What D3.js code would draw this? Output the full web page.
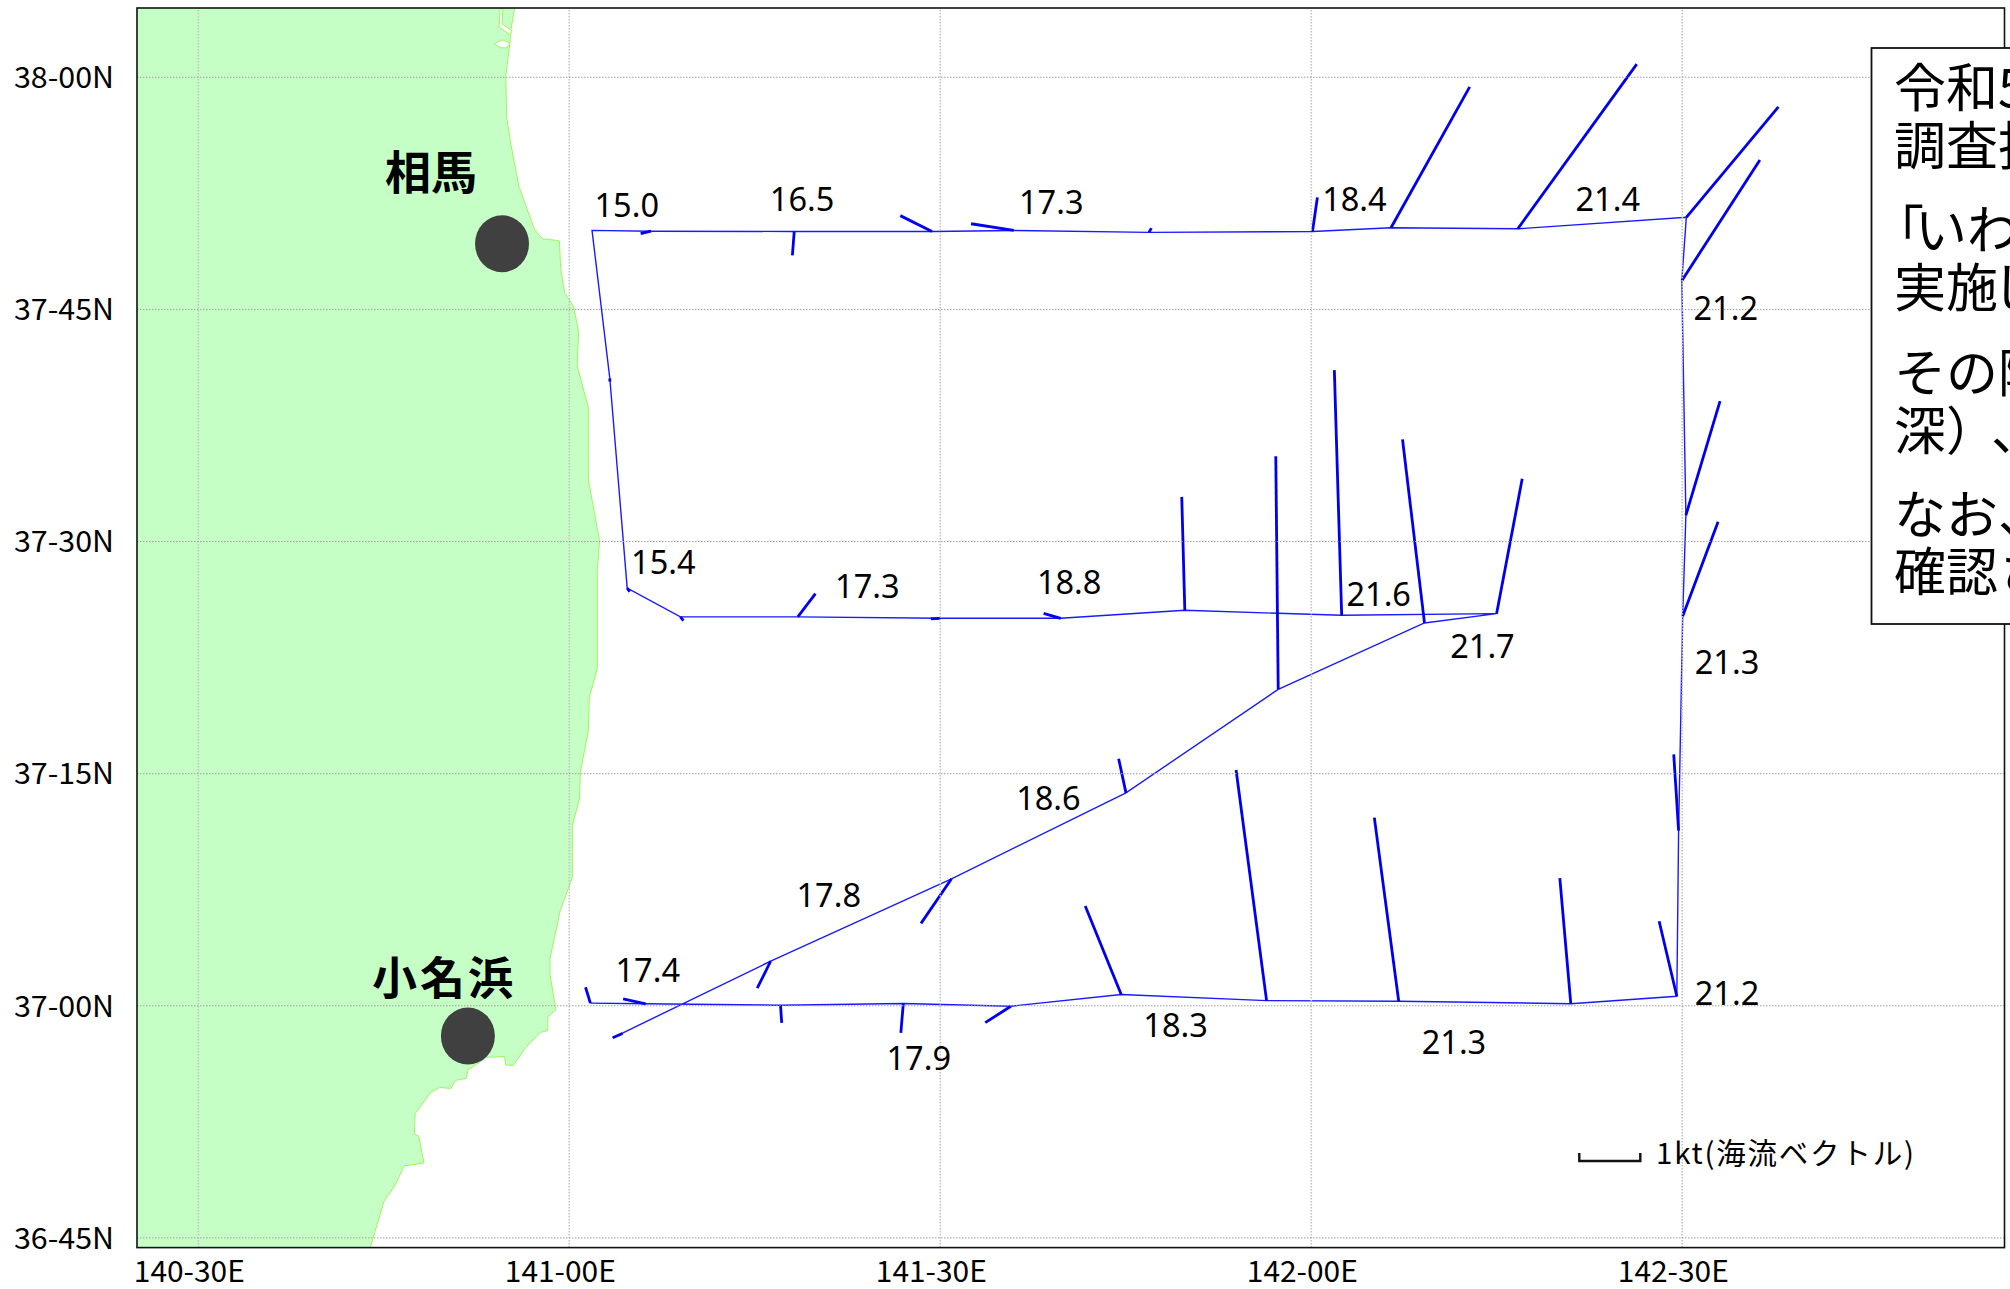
<!DOCTYPE html>
<html>
<head>
<meta charset="utf-8">
<title>海流ベクトル</title>
<script src="https://cdn.jsdelivr.net/npm/d3@7"></script>
<style>
body { margin: 0; background: #fff; overflow: hidden; }
svg { display: block; }
text { text-spacing-trim: space-all; }
</style>
</head>
<body>
<svg id="chart" width="2010" height="1289"></svg>
<script>
// ticks
var lonTicks = [140.5, 141, 141.5, 142, 142.5];
var lonTickLabels = ["140-30E", "141-00E", "141-30E", "142-00E", "142-30E"];
var latTicks = [38, 37.75, 37.5, 37.25, 37, 36.75];
var latTickLabels = ["38-00N", "37-45N", "37-30N", "37-15N", "37-00N", "36-45N"];

// survey track in sailing order, current at each station in knots
var trackLon = [141.0592, 141.2721, 141.5158, 141.7509, 141.9561, 142.1532, 142.2504, 142.0416, 141.8302, 141.6629, 141.5005, 141.3086, 141.1504, 141.0787, 141.0553, 141.0313, 141.1108, 141.3038, 141.4895, 141.5997, 141.7819, 142.0023, 142.1081, 142.2790, 142.5061, 142.5000, 142.5055, 142.5012, 142.4957, 142.4933, 142.3504, 142.1185, 141.9404, 141.7445, 141.5958, 141.4508, 141.2853, 141.1036, 141.0291];
var trackLat = [36.9650, 37.0475, 37.1362, 37.2288, 37.3403, 37.4118, 37.4218, 37.4200, 37.4254, 37.4168, 37.4168, 37.4183, 37.4183, 37.4494, 37.6751, 37.8346, 37.8337, 37.8334, 37.8334, 37.8345, 37.8324, 37.8334, 37.8374, 37.8363, 37.8486, 37.7804, 37.5278, 37.4190, 37.1882, 37.0097, 37.0017, 37.0043, 37.0050, 37.0116, 36.9990, 37.0019, 37.0001, 37.0016, 37.0023];
var currentU = [0.16, -0.22, -0.50, -0.12, -0.04, -0.36, 0.42, -0.12, -0.05, -0.28, -0.15, 0.29, 0.05, 0.04, 0, 0, -0.17, -0.03, -0.52, -0.70, 0.04, 0.08, 1.29, 1.95, 1.51, 1.28, 0.56, 0.58, -0.08, -0.29, -0.18, -0.40, -0.50, -0.59, -0.42, -0.04, 0.02, -0.37, -0.08];
var currentV = [0.07, -0.44, -0.73, 0.56, 3.82, 3.01, 2.21, 4.02, 1.86, 0.08, -0.01, 0.38, -0.06, -0.06, -0.05, 0, -0.04, -0.39, 0.26, 0.11, 0.07, 0.56, 2.31, 2.70, 1.81, 1.98, 1.87, 1.55, 1.25, 1.23, 2.06, 3.01, 3.78, 1.45, -0.27, -0.48, -0.29, 0.08, 0.26];

// water temperature labels
var tempText = ["15.0", "16.5", "17.3", "18.4", "21.4", "21.2", "21.3", "21.2", "21.3", "18.3", "17.9", "17.4", "17.8", "18.6", "21.7", "21.6", "18.8", "17.3", "15.4"];
var tempLon = [141.0367, 141.2730, 141.6088, 142.0173, 142.3588, 142.5178, 142.5195, 142.5195, 142.1515, 141.7763, 141.4302, 141.0650, 141.3089, 141.6049, 142.1899, 142.0501, 141.6329, 141.3609, 141.0860];
var tempLat = [37.8509, 37.8568, 37.8543, 37.8572, 37.8572, 37.7399, 37.3583, 37.0019, 36.9495, 36.9675, 36.9316, 37.0264, 37.1078, 37.2116, 37.3760, 37.4317, 37.4448, 37.4398, 37.4658];

// coast, north to south
var coastLon = [140.9271, 140.9221, 140.9208, 140.9151, 140.9163, 140.9221, 140.9329, 140.9536, 140.9644, 140.9873, 140.9891, 140.9945, 141.0066, 141.0132, 141.0113, 141.0264, 141.0264, 141.0415, 141.0384, 141.0384, 141.0276, 141.0264, 141.0156, 141.0144, 141.0047, 141.0047, 140.9885, 140.9747, 140.9747, 140.9825, 140.9717, 140.9717, 140.9615, 140.9422, 140.9253, 140.9151, 140.9133, 140.8892, 140.8640, 140.8621, 140.8472, 140.8411, 140.8260, 140.8140, 140.7930, 140.7918, 140.7977, 140.8049, 140.7779, 140.7658, 140.7509, 140.7327];
var coastLat = [38.0743, 38.0511, 38.0377, 38.0013, 37.9561, 37.9268, 37.8816, 37.8359, 37.8256, 37.8234, 37.7933, 37.7674, 37.7524, 37.7249, 37.6888, 37.6436, 37.5661, 37.5004, 37.4670, 37.3626, 37.3314, 37.2959, 37.2512, 37.2222, 37.1936, 37.1376, 37.1021, 37.0507, 37.0332, 36.9950, 36.9874, 36.9729, 36.9707, 36.9549, 36.9352, 36.9357, 36.9449, 36.9438, 36.9303, 36.9215, 36.9190, 36.9104, 36.9115, 36.9061, 36.8835, 36.8613, 36.8591, 36.8301, 36.8270, 36.8060, 36.7888, 36.7397];
var pond1Lon = [140.9073, 140.9113, 140.9100, 140.9235, 140.9208, 140.9060];
var pond1Lat = [38.0732, 38.0732, 38.0571, 38.0495, 38.0452, 38.0538];
var pond2Lon = [140.8992, 140.9100, 140.9208, 140.9167, 140.9087];
var pond2Lat = [38.0355, 38.0398, 38.0366, 38.0312, 38.0312];

// ports
var portNames = ["相馬", "小名浜"];
var portLon = [140.91, 140.864];
var portLat = [37.8202, 36.9669];

// text box, cut off by the edge of the picture
var noteLines = ["令和5", "調査指", "「いわ", "実施し", "その際", "深）、", "なお、", "確認さ"];
var noteBaselines = [107, 165, 249, 307, 392, 450, 534, 591];
var noteStarts = ["1894", "1894", "1872 1915 1967", "1894 1946 1992", "1894", "1894 1946 1991", "1894", "1894"];

var svg = d3.select("#chart");
var left = 137, right = 2004.5, top_ = 8, bottom = 1247.6;

var x = d3.scaleLinear().domain([140.5, 142.5]).range([197.8, 1681.8]);
var y = d3.scaleLinear().domain([38, 36.75]).range([76.8, 1237.4]);
var kt = d3.scaleLinear().domain([0, 1]).range([0, 61]);

svg.append("clipPath").attr("id", "plot").append("rect")
    .attr("x", left).attr("y", top_).attr("width", right - left).attr("height", bottom - top_);

var plot = svg.append("g").attr("clip-path", "url(#plot)");

// land
var coastRing = coastLon.map(function(d, i) { return [x(d), y(coastLat[i])]; });
coastRing.push([left, bottom]);
coastRing.push([left, top_]);
plot.append("path")
    .attr("d", d3.line()(coastRing) + "Z")
    .attr("fill", "#c6ffc6")
    .attr("stroke", "none");
plot.append("path")
    .attr("d", d3.line()(coastRing.slice(0, coastLon.length)))
    .attr("fill", "none")
    .attr("stroke", "#9cf85a")
    .attr("stroke-width", 1);
[[pond1Lon, pond1Lat], [pond2Lon, pond2Lat]].forEach(function(p) {
    var ring = p[0].map(function(d, i) { return [x(d), y(p[1][i])]; });
    plot.append("path")
        .attr("d", d3.line()(ring) + "Z")
        .attr("fill", "#fff")
        .attr("stroke", "#9cf85a")
        .attr("stroke-width", 1);
});

// grid
var gridX = svg.append("g")
    .attr("transform", "translate(0," + bottom + ")")
    .call(d3.axisBottom(x).tickValues(lonTicks).tickSize(top_ - bottom).tickFormat(""));
gridX.select(".domain").remove();
gridX.selectAll("line").attr("stroke", "#c4c4c4").attr("stroke-width", 1.6).attr("stroke-dasharray", "1.5,1.5");

var gridY = svg.append("g")
    .attr("transform", "translate(" + left + ",0)")
    .call(d3.axisLeft(y).tickValues(latTicks).tickSize(left - right).tickFormat(""));
gridY.select(".domain").remove();
gridY.selectAll("line").attr("stroke", "#a0a0a0").attr("stroke-width", 1).attr("stroke-dasharray", "1.5,1.5");

// frame
svg.append("rect")
    .attr("x", left).attr("y", top_).attr("width", right - left).attr("height", bottom - top_)
    .attr("fill", "none").attr("stroke", "#111").attr("stroke-width", 1.6);

// tick labels
var axisX = svg.append("g")
    .attr("transform", "translate(0," + bottom + ")")
    .call(d3.axisBottom(x).tickValues(lonTicks).tickSize(0).tickFormat(function(d, i) { return lonTickLabels[i]; }));
axisX.select(".domain").remove();
axisX.selectAll("text")
    .attr("y", 34.5)
    .attr("dy", 0)
    .attr("dx", -9)
    .attr("fill", "#000")
    .attr("font-family", "'Noto Sans CJK JP'")
    .attr("font-size", 29.5)
    .attr("textLength", 111)
    .attr("lengthAdjust", "spacingAndGlyphs");

var axisY = svg.append("g")
    .attr("transform", "translate(114,0)")
    .call(d3.axisLeft(y).tickValues(latTicks).tickSize(0).tickFormat(function(d, i) { return latTickLabels[i]; }));
axisY.select(".domain").remove();
axisY.selectAll("text")
    .attr("x", 0)
    .attr("dy", 10.8)
    .attr("fill", "#000")
    .attr("font-family", "'Noto Sans CJK JP'")
    .attr("font-size", 29.5)
    .attr("textLength", 100)
    .attr("lengthAdjust", "spacingAndGlyphs");

// track
var track = trackLon.map(function(d, i) { return [x(d), y(trackLat[i])]; });
plot.append("path")
    .attr("d", d3.line()(track))
    .attr("fill", "none")
    .attr("stroke", "#1a1aff")
    .attr("stroke-width", 1.4);

// current vectors
plot.selectAll(".vector")
    .data(trackLon)
    .enter()
    .append("line")
    .attr("class", "vector")
    .attr("x1", function(d) { return x(d); })
    .attr("y1", function(d, i) { return y(trackLat[i]); })
    .attr("x2", function(d, i) { return x(d) + kt(currentU[i]); })
    .attr("y2", function(d, i) { return y(trackLat[i]) - kt(currentV[i]); })
    .attr("stroke", "#0000f0")
    .attr("stroke-width", 2.8);

// temperatures
svg.selectAll(".temp")
    .data(tempText)
    .enter()
    .append("text")
    .attr("class", "temp")
    .attr("x", function(d, i) { return x(tempLon[i]) - 1.5; })
    .attr("y", function(d, i) { return y(tempLat[i]) + 1.5; })
    .attr("font-family", "'Noto Sans', sans-serif")
    .attr("font-size", 32.5)
    .attr("fill", "#000")
    .text(function(d) { return d; });

// ports
svg.selectAll(".port")
    .data(portNames)
    .enter()
    .append("ellipse")
    .attr("class", "port")
    .attr("cx", function(d, i) { return x(portLon[i]); })
    .attr("cy", function(d, i) { return y(portLat[i]); })
    .attr("rx", 27)
    .attr("ry", 28.5)
    .attr("fill", "#404040");

svg.append("text").attr("x", 385).attr("y", 189)
    .attr("font-family", "'Noto Sans CJK JP'").attr("font-weight", 700).attr("font-size", 46)
    .attr("fill", "#000").text(portNames[0]);
svg.append("text").attr("x", 372).attr("y", 995)
    .attr("font-family", "'Noto Sans CJK JP'").attr("font-weight", 700).attr("font-size", 45)
    .attr("letter-spacing", 3).attr("fill", "#000").text(portNames[1]);

// scale bar
var barX = 1579.3;
svg.append("path")
    .attr("d", d3.line()([[barX, 1153], [barX, 1161], [barX + kt(1), 1161], [barX + kt(1), 1153]]))
    .attr("fill", "none")
    .attr("stroke", "#111")
    .attr("stroke-width", 2.4);
svg.append("text").attr("x", 1656).attr("y", 1164)
    .attr("font-family", "'Noto Sans CJK JP'").attr("font-size", 29.5)
    .attr("textLength", 258).attr("lengthAdjust", "spacing")
    .attr("fill", "#000").text("1kt(海流ベクトル)");

// note box
svg.append("rect")
    .attr("x", 1871.5).attr("y", 48).attr("width", 160).attr("height", 576)
    .attr("fill", "#fff").attr("stroke", "#111").attr("stroke-width", 1.8);
svg.selectAll(".note")
    .data(noteLines)
    .enter()
    .append("text")
    .attr("class", "note")
    .attr("x", function(d, i) { return noteStarts[i]; })
    .attr("y", function(d, i) { return noteBaselines[i]; })
    .attr("font-family", "'Noto Sans CJK JP'")
    .attr("font-size", 52)
    .attr("fill", "#000")
    .text(function(d) { return d; });
</script>
</body>
</html>
